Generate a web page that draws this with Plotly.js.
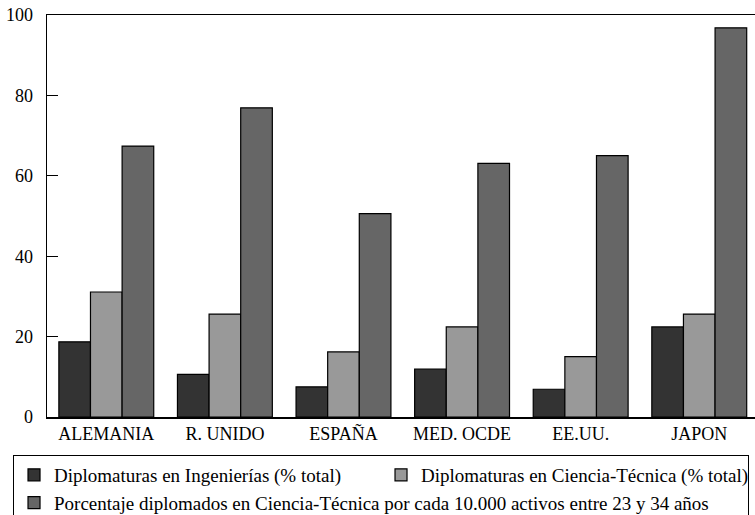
<!DOCTYPE html>
<html>
<head>
<meta charset="utf-8">
<script src="https://cdn.plot.ly/plotly-3.0.1.min.js"></script>
<style>html,body{margin:0;padding:0;background:#fff;}#chart{width:755px;height:515px;}</style>
</head>
<body>
<div id="chart"></div>
<script>
const categories = ["ALEMANIA", "R. UNIDO", "ESPAÑA", "MED. OCDE", "EE.UU.", "JAPON"];
const seriesNames = [
  "Diplomaturas en Ingenierías (% total)",
  "Diplomaturas en Ciencia-Técnica (% total)",
  "Porcentaje diplomados en Ciencia-Técnica por cada 10.000 activos entre 23 y 34 años"
];
const ingenierias = [18.7, 10.6, 7.5, 11.9, 6.9, 22.4];
const cienciaTecnica = [31.1, 25.6, 16.2, 22.4, 15.0, 25.6];
const porcentajeDiplomados = [67.4, 76.9, 50.6, 63.1, 65.0, 96.8];
const yTicks = [0, 20, 40, 60, 80, 100];

const colors = ["#333333", "#999999", "#666666"];
const allValues = [ingenierias, cienciaTecnica, porcentajeDiplomados];

const traces = allValues.map((vals, i) => ({
  type: "bar",
  x: categories,
  y: vals,
  name: seriesNames[i],
  marker: {color: colors[i], line: {color: "#000000", width: 1.2}},
  hoverinfo: "skip"
}));

const font = "Liberation Serif";

const layout = {
  width: 755,
  height: 515,
  margin: {l: 47, r: 0, t: 15, b: 98, autoexpand: false},
  paper_bgcolor: "#ffffff",
  plot_bgcolor: "#ffffff",
  font: {family: font, size: 18, color: "#000000"},
  barmode: "group",
  bargap: 0.2,
  bargroupgap: 0,
  showlegend: true,
  legend: {
    orientation: "h",
    x: -0.048, xanchor: "left",
    y: -0.0945, yanchor: "top",
    bordercolor: "#000000", borderwidth: 1,
    bgcolor: "rgba(0,0,0,0)",
    font: {family: font, size: 19, color: "#000000"},
    entrywidth: 322, entrywidthmode: "pixels",
    traceorder: "normal"
  },
  xaxis: {
    type: "category",
    range: [-0.5, 5.47],
    showline: true, linecolor: "#000000", linewidth: 1.5,
    mirror: true,
    ticks: "",
    showgrid: false, zeroline: false,
    tickfont: {family: font, size: 18, color: "#000000"},
    fixedrange: true
  },
  yaxis: {
    range: [0, 100],
    tickvals: yTicks,
    ticktext: yTicks.map(String),
    showline: true, linecolor: "#000000", linewidth: 1.5,
    ticks: "inside", ticklen: 11, tickcolor: "#000000", tickwidth: 1.2,
    ticklabelstandoff: 9,
    showgrid: false, zeroline: false,
    tickfont: {family: font, size: 18, color: "#000000"},
    fixedrange: true
  }
};

Plotly.newPlot("chart", traces, layout, {displayModeBar: false, staticPlot: true});
</script>
</body>
</html>
